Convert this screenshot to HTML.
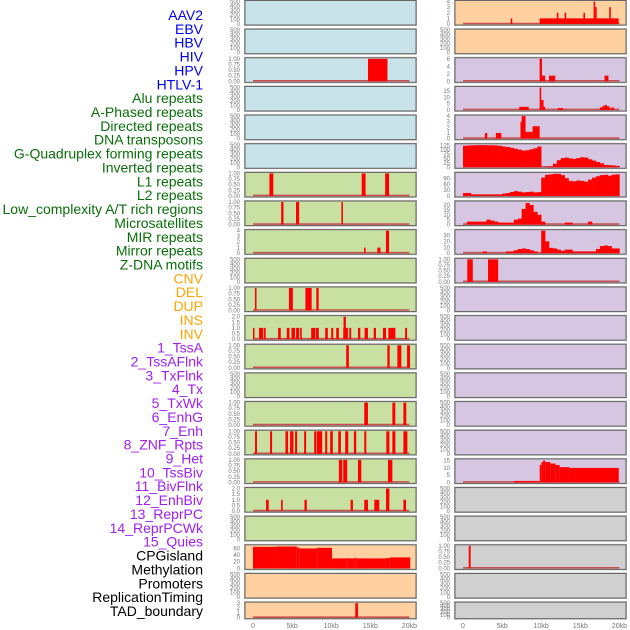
<!DOCTYPE html>
<html><head><meta charset="utf-8"><style>
html,body{margin:0;padding:0;background:#fff;width:630px;height:630px;overflow:hidden}
svg{display:block}
</style></head><body>
<svg id="chart" width="630" height="630" xmlns="http://www.w3.org/2000/svg" font-family="Liberation Sans, sans-serif"></svg>
<script>
// ---- data ----
const trackLabels = ["AAV2","EBV","HBV","HIV","HPV","HTLV-1","Alu repeats","A-Phased repeats","Directed repeats","DNA transposons","G-Quadruplex forming repeats","Inverted repeats","L1 repeats","L2 repeats","Low_complexity A/T rich regions","Microsatellites","MIR repeats","Mirror repeats","Z-DNA motifs","CNV","DEL","DUP","INS","INV","1_TssA","2_TssAFlnk","3_TxFlnk","4_Tx","5_TxWk","6_EnhG","7_Enh","8_ZNF_Rpts","9_Het","10_TssBiv","11_BivFlnk","12_EnhBiv","13_ReprPC","14_ReprPCWk","15_Quies","CPGisland","Methylation","Promoters","ReplicationTiming","TAD_boundary"];
const labelGroups = ["v","v","v","v","v","v","r","r","r","r","r","r","r","r","r","r","r","r","r","s","s","s","s","s","c","c","c","c","c","c","c","c","c","c","c","c","c","c","c","k","k","k","k","k"];
const xTickLabels = ["0","5kb","10kb","15kb","20kb"];
const xTickValues = [0,5,10,15,20];
const rowBgLeft  = ["b","b","b","b","b","b","g","g","g","g","g","g","g","g","g","g","g","g","g","p","p","p"];
const rowBgRight = ["p","p","l","l","l","l","l","l","l","l","l","l","l","l","l","l","l","y","y","y","y","y"];
const T500 = [0,100,200,300,400,500];
const T1 = ["0.00","0.25","0.50","0.75","1.00"];
const T2 = ["0.0","0.5","1.0","1.5","2.0"];
const T4 = [0,1,2,3,4];
// bars: [startKb, endKb, value]
const aav2Bars = [[6.1,6.3,1],[9.8,19.9,1],[12.0,12.2,2],[13.0,13.2,2],[15.4,15.6,2],[16.7,16.9,4],[16.9,17.1,3],[18.7,18.9,3]];
const hivBars = [[14.7,17.2,1]];
const hpvBars = [[9.8,10.1,6],[10.1,10.5,1.5],[11.0,11.8,1.5],[18.1,18.6,1.5]];
const htlvBars = [[7.2,8.4,2.5],[9.8,10.0,18],[10.0,10.3,8],[10.3,10.5,2.5],[12.1,12.8,1.5],[17.5,17.8,2],[17.8,18.1,3],[18.1,18.4,4],[18.4,18.7,3],[18.7,18.9,2],[19.0,19.3,2]];
const aluBars = [[2.8,3.1,1],[4.2,4.9,1],[7.35,7.5,3],[7.5,8.0,4],[8.0,8.9,1.2],[8.9,9.8,2.2]];
const gquadBins = [122,124,125,125,126,126,125,125,124,122,118,115,110,105,100,95,97,102,108,118,0,2,5,20,40,52,55,50,48,52,57,55,45,38,30,22,13,12,10,8];
const l1LeftBars = [[2.1,2.6,1],[13.9,14.4,1],[16.9,17.4,1]];
const l1Bins = [15,15,8,8,8,8,8,8,8,8,12,15,20,25,22,18,20,22,18,20,95,110,112,115,115,108,92,78,76,80,78,74,85,95,102,108,110,105,110,112];
const l2LeftBars = [[3.6,3.9,1],[5.5,5.9,1],[11.3,11.5,1]];
const l2Bins = [0,3,3,3,3,3,5,4,3,2,2,2,2,5,6,16,22,20,13,10,3,0,0,0,0,0,2,2,0,0,0,0,3,0,0,0,0,0,0,0];
const lowLeftBars = [[14.2,14.4,1],[15.9,16.3,1],[17.0,17.4,4]];
const lowBins = [0,0,0,0,0,3,0,0,0,0,0,3,3,5,7,8,7,5,3,0,38,20,9,8,6,4,6,6,3,3,3,3,3,3,7,12,13,12,8,8];
const microRightBars = [[0.55,1.25,1],[3.2,4.5,1]];
const mirLeftBars = [[0.25,0.45,1],[4.6,5.1,1],[6.7,7.5,1],[8.1,8.4,1]];
const mirrorLeftBars = [[0,0.1,1],[0.77,1.32,1],[1.41,1.62,1],[3.21,3.55,1],[4.32,4.66,1],[4.92,5.38,1],[5.51,5.9,1],[6.03,6.24,1],[7.44,7.95,1],[8.03,8.42,1],[9.23,9.57,1],[10.0,10.26,1],[10.64,10.98,1],[11.54,12.14,1],[11.58,11.88,2],[12.31,12.56,1],[13.42,13.72,1],[14.27,14.7,1],[15.43,15.73,1],[16.62,17.01,1],[17.31,18.21,1],[19.45,19.7,1]];
const zdnaLeftBars = [[11.92,12.26,1],[17.18,17.48,1],[18.46,18.97,1],[19.7,20.08,1]];
const delLeftBars = [[14.23,14.7,1],[17.82,18.2,1],[19.23,19.6,1]];
const dupLeftBars = [[0.26,0.51,1],[2.18,2.44,1],[4.15,4.49,1],[4.74,5.17,1],[5.38,5.64,1],[6.54,6.79,1],[7.82,8.08,1],[8.16,8.85,1],[9.23,9.49,1],[9.87,10.21,1],[10.9,11.24,1],[11.79,12.18,1],[12.9,13.2,1],[14.23,14.49,1],[17.05,17.44,1],[17.82,18.21,1],[19.23,19.74,1]];
const insLeftBars = [[10.98,11.41,1],[11.54,12.05,1],[13.42,13.85,1],[17.26,17.82,1]];
const insRightBars = [[6.5,9.81,1],[9.81,10.02,12],[10.02,10.24,14],[10.24,10.53,15],[10.53,11.17,14],[11.17,11.85,13],[11.85,12.36,12],[12.36,13.63,10.5],[13.63,19.92,10]];
const invLeftBars = [[1.67,2.01,1],[3.59,3.8,1],[6.58,6.88,1],[12.48,12.78,1],[14.23,14.7,1],[15.51,16.15,1],[17.01,17.44,2],[19.23,19.57,1]];
const cpgBars = [[0,3.0,65],[3.0,5.6,66],[5.6,5.9,63],[5.9,8.2,60],[8.2,10.1,62],[10.1,12.0,30],[12.0,12.2,31],[12.2,13.0,30],[13.0,13.2,32],[13.2,17.0,30],[17.0,17.5,31],[17.5,20.1,33]];
const cpgRightBars = [[0.73,0.98,1]];
const tadBars = [[13.08,13.42,3]];

// panels: [row, side, ticks, ymax, bars, bins]
const panels = [
 [0,0,T500,500,null,null],[0,1,T4,4,aav2Bars,null],
 [1,0,T500,500,null,null],[1,1,T500,500,null,null],
 [2,0,T1,1,hivBars,null],[2,1,[0,2,4,6],6,hpvBars,null],
 [3,0,T500,500,null,null],[3,1,[0,5,10,15],18,htlvBars,null],
 [4,0,T500,500,null,null],[4,1,T4,4,aluBars,null],
 [5,0,T500,500,null,null],[5,1,[0,25,50,75,100,125],128,null,gquadBins],
 [6,0,T1,1,l1LeftBars,null],[6,1,[0,30,60,90],117,null,l1Bins],
 [7,0,T1,1,l2LeftBars,null],[7,1,[0,5,10,15,20],23,null,l2Bins],
 [8,0,T4,4,lowLeftBars,null],[8,1,[0,10,20,30],38,null,lowBins],
 [9,0,T500,500,null,null],[9,1,T1,1,microRightBars,null],
 [10,0,T1,1,mirLeftBars,null],[10,1,T500,500,null,null],
 [11,0,T2,2,mirrorLeftBars,null],[11,1,T500,500,null,null],
 [12,0,T1,1,zdnaLeftBars,null],[12,1,T500,500,null,null],
 [13,0,T500,500,null,null],[13,1,T500,500,null,null],
 [14,0,T1,1,delLeftBars,null],[14,1,T500,500,null,null],
 [15,0,T1,1,dupLeftBars,null],[15,1,T500,500,null,null],
 [16,0,T1,1,insLeftBars,null],[16,1,[0,5,10,15],15.5,insRightBars,null],
 [17,0,T2,2,invLeftBars,null],[17,1,T500,500,null,null],
 [18,0,T500,500,null,null],[18,1,T500,500,null,null],
 [19,0,[0,20,40,60],68,cpgBars,null],[19,1,T1,1,cpgRightBars,null],
 [20,0,T500,500,null,null],[20,1,T500,500,null,null],
 [21,0,[0,1,2,3],3,tadBars,null],[21,1,T500,500,null,null]
];

// ---- drawing ----
const NS="http://www.w3.org/2000/svg";
const svg=document.getElementById('chart');
function mk(tag,attrs,parent){const e=document.createElementNS(NS,tag);for(const k in attrs)e.setAttribute(k,attrs[k]);(parent||svg).appendChild(e);return e;}
const bgColors={b:"#c8e4ea",g:"#c8e0a2",p:"#ffd1a0",l:"#d6c6e2",y:"#d0d0d0"};
const labelColors={v:"#0000ee",r:"#0a6e0a",s:"#ffa500",c:"#a020f0",k:"#000000"};
const colX=[245,455];
const W=171;
function rowTop(r){return 0.5+r*28.65;}
function rowH(r){return r===21?16.5:24.5;}
function xScale(side,kb){return colX[side]+8+kb*7.82;}

// labels
trackLabels.forEach((t,i)=>{
  const el=mk('text',{x:203,y:20+i*13.86,'text-anchor':'end','font-size':'14',fill:labelColors[labelGroups[i]]});
  
  
  el.textContent=t;
});

panels.forEach(p=>{
  const [r,side,ticks,ymax,bars,bins]=p;
  const top=rowTop(r),h=rowH(r),x0=colX[side];
  const g=mk('g',{});
  
  
  mk('rect',{x:x0-0.5,y:top-0.5,width:W+1,height:h+1,fill:'none',stroke:'#bbb','stroke-width':1},g);
  const bg=(side?rowBgRight:rowBgLeft)[r];
  mk('rect',{x:x0,y:top,width:W,height:h,fill:bgColors[bg]},g);
  const bottom=top+h-1, inner=h-2;
  const yS=v=>bottom-(v/ymax)*inner;
  const has=bars||bins;
  if(has){
    mk('line',{x1:xScale(side,0),x2:xScale(side,20),y1:bottom-0.5,y2:bottom-0.5,stroke:'#c85050','stroke-width':1.6},g);
  }
  if(bars){bars.forEach(b=>{
    const bx=xScale(side,b[0]),bw=Math.max(1.5,xScale(side,b[1])-bx);
    const rc=mk('rect',{x:bx,y:yS(b[2]),width:bw,height:bottom-yS(b[2]),fill:'#ff0000'},g);
    
    
  });}
  if(bins){bins.forEach((v,i)=>{
    if(v<=0)return;
    const bx=xScale(side,i*0.5),bw=xScale(side,(i+1)*0.5)-bx+0.3;
    const rc=mk('rect',{x:bx,y:yS(v),width:bw,height:bottom-yS(v),fill:'#ff0000'},g);
    
    
  });}
  mk('rect',{x:x0,y:top,width:W,height:h,fill:'none',stroke:'#666','stroke-width':1},g);
  // y ticks
  ticks.forEach((t,i)=>{
    const v=parseFloat(t);
    const ty=bottom-(v/parseFloat(ticks[ticks.length-1]))*inner*( (parseFloat(ticks[ticks.length-1]))/ymax );
    const tx=mk('text',{x:x0-5,y:ty+2,'text-anchor':'end','font-size':'6',fill:'#777'},g);
    
    
    tx.textContent=t;
  });
});

// x axis
[0,1].forEach(side=>{
  xTickValues.forEach((v,i)=>{
    const t=mk('text',{x:xScale(side,v),y:628,'text-anchor':'middle','font-size':'7',fill:'#777'});
    
    
    t.textContent=xTickLabels[i];
  });
});
</script>
</body></html>
